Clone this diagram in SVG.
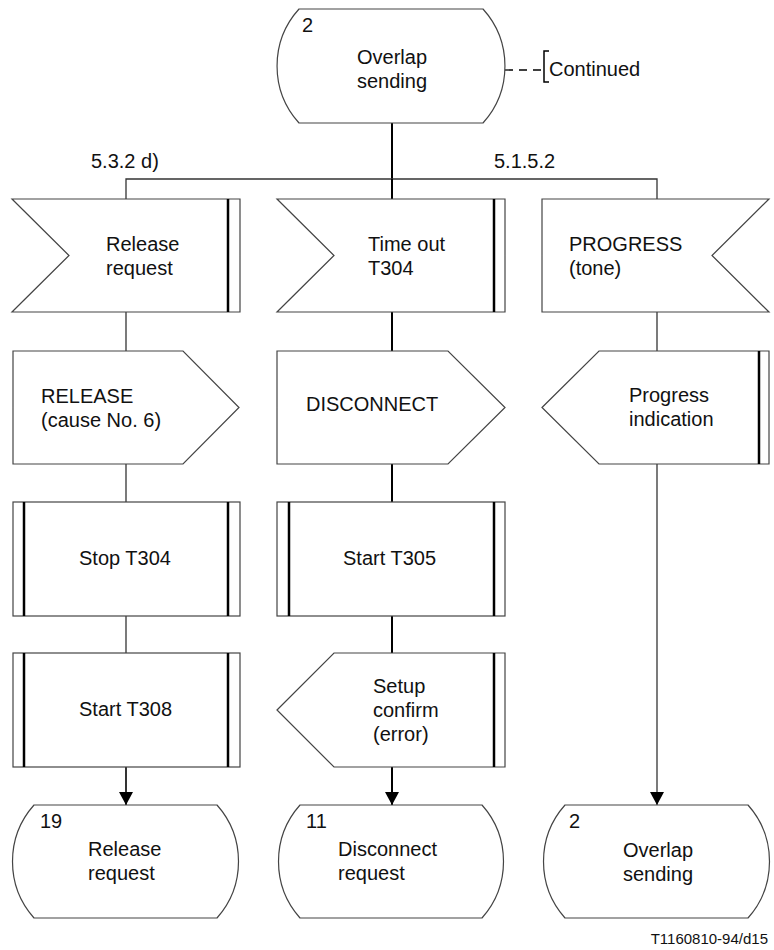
<svg xmlns="http://www.w3.org/2000/svg" width="774" height="950" viewBox="0 0 774 950">
<style>
.s{fill:#fff;stroke:#444;stroke-width:1.2}
.b{stroke:#000;stroke-width:2.5}
.t{font-family:"Liberation Sans",Arial,sans-serif;font-size:20px;fill:#111}
.c{stroke:#333;stroke-width:1.3;fill:none}
.cm{stroke:#000;stroke-width:2;fill:none}
</style>
<defs>
<marker id="ah" markerWidth="13" markerHeight="14" refX="13" refY="7" orient="auto" markerUnits="userSpaceOnUse" viewBox="0 0 13 14">
<path d="M0,0 L13,7 L0,14 Z" fill="#000"/>
</marker>
</defs>
<g id="connectors">
<line class="cm" x1="392" y1="123" x2="392" y2="179"/>
<polyline class="c" points="126,199 126,179 657,179 657,199"/>
<line class="cm" x1="392" y1="179" x2="392" y2="199"/>
<line class="c" x1="126" y1="312" x2="126" y2="351"/>
<line class="c" x1="126" y1="464" x2="126" y2="502"/>
<line class="c" x1="126" y1="616" x2="126" y2="653"/>
<line class="c" x1="126" y1="767" x2="126" y2="805" marker-end="url(#ah)" style="stroke:#000;stroke-width:1.6"/>
<line class="cm" x1="392" y1="312" x2="392" y2="351"/>
<line class="cm" x1="392" y1="464" x2="392" y2="502"/>
<line class="cm" x1="392" y1="616" x2="392" y2="653"/>
<line class="cm" x1="392" y1="767" x2="392" y2="805" marker-end="url(#ah)"/>
<line class="c" x1="657" y1="312" x2="657" y2="351"/>
<line class="c" x1="657" y1="464" x2="657" y2="805" marker-end="url(#ah)"/>
<line x1="505" y1="70" x2="542" y2="70" stroke="#000" stroke-width="1.3" stroke-dasharray="8,6"/>
<polyline points="549,51 544,51 544,82 549,82" fill="none" stroke="#000" stroke-width="1.5"/>
</g>
<g id="state-top">
<path class="s" d="M299,9 L483,9 A85,85 0 0 1 483,123 L299,123 A85,85 0 0 1 299,9 Z"/>
<text class="t" x="302" y="32">2</text>
<text class="t" x="357" y="64">Overlap</text>
<text class="t" x="357" y="88">sending</text>
</g>
<g id="continued">
<text class="t" x="549" y="76">Continued</text>
</g>
<g id="labels">
<text class="t" x="91" y="168">5.3.2 d)</text>
<text class="t" x="494" y="168">5.1.5.2</text>
</g>
<g id="in-release-request">
<polygon class="s" points="12,199 240,199 240,312 12,312 69,255.5"/>
<line class="b" x1="228" y1="199" x2="228" y2="312"/>
<text class="t" x="106" y="251">Release</text>
<text class="t" x="106" y="275">request</text>
</g>
<g id="in-timeout">
<polygon class="s" points="277,199 505,199 505,312 277,312 334,255.5"/>
<line class="b" x1="494" y1="199" x2="494" y2="312"/>
<text class="t" x="368" y="251">Time out</text>
<text class="t" x="368" y="275">T304</text>
</g>
<g id="in-progress">
<polygon class="s" points="542,199 769,199 712,255.5 769,312 542,312"/>
<text class="t" x="569" y="251">PROGRESS</text>
<text class="t" x="569" y="275">(tone)</text>
</g>
<g id="out-release">
<polygon class="s" points="13,351 183,351 239,407.5 183,464 13,464"/>
<text class="t" x="41" y="403">RELEASE</text>
<text class="t" x="41" y="427">(cause No. 6)</text>
</g>
<g id="out-disconnect">
<polygon class="s" points="277,351 448,351 505,407.5 448,464 277,464"/>
<text class="t" x="306" y="411">DISCONNECT</text>
</g>
<g id="out-progress-indication">
<polygon class="s" points="542,407.5 599,351 769,351 769,464 599,464"/>
<line class="b" x1="759" y1="351" x2="759" y2="464"/>
<text class="t" x="629" y="402">Progress</text>
<text class="t" x="629" y="426">indication</text>
</g>
<g id="task-stop-t304">
<rect class="s" x="13" y="502" width="227" height="114"/>
<line class="b" x1="24" y1="502" x2="24" y2="616"/>
<line class="b" x1="228" y1="502" x2="228" y2="616"/>
<text class="t" x="79" y="565">Stop T304</text>
</g>
<g id="task-start-t305">
<rect class="s" x="277" y="502" width="228" height="114"/>
<line class="b" x1="289" y1="502" x2="289" y2="616"/>
<line class="b" x1="494" y1="502" x2="494" y2="616"/>
<text class="t" x="343" y="565">Start T305</text>
</g>
<g id="task-start-t308">
<rect class="s" x="13" y="653" width="227" height="114"/>
<line class="b" x1="24" y1="653" x2="24" y2="767"/>
<line class="b" x1="228" y1="653" x2="228" y2="767"/>
<text class="t" x="79" y="716">Start T308</text>
</g>
<g id="in-setup-confirm">
<polygon class="s" points="277,710 334,653 505,653 505,767 334,767"/>
<line class="b" x1="494" y1="653" x2="494" y2="767"/>
<text class="t" x="373" y="693">Setup</text>
<text class="t" x="373" y="717">confirm</text>
<text class="t" x="373" y="741">(error)</text>
</g>
<g id="state-19">
<path class="s" d="M34,805 L217,805 A85,85 0 0 1 217,918 L34,918 A85,85 0 0 1 34,805 Z"/>
<text class="t" x="40" y="828">19</text>
<text class="t" x="88" y="856">Release</text>
<text class="t" x="88" y="880">request</text>
</g>
<g id="state-11">
<path class="s" d="M300,805 L482,805 A85,85 0 0 1 482,918 L300,918 A85,85 0 0 1 300,805 Z"/>
<text class="t" x="306" y="828">11</text>
<text class="t" x="338" y="856">Disconnect</text>
<text class="t" x="338" y="880">request</text>
</g>
<g id="state-2">
<path class="s" d="M565,805 L748,805 A85,85 0 0 1 748,918 L565,918 A85,85 0 0 1 565,805 Z"/>
<text class="t" x="569" y="828">2</text>
<text class="t" x="623" y="857">Overlap</text>
<text class="t" x="623" y="881">sending</text>
</g>
<text class="t" x="768" y="944" text-anchor="end" style="font-size:15px">T1160810-94/d15</text>
</svg>
